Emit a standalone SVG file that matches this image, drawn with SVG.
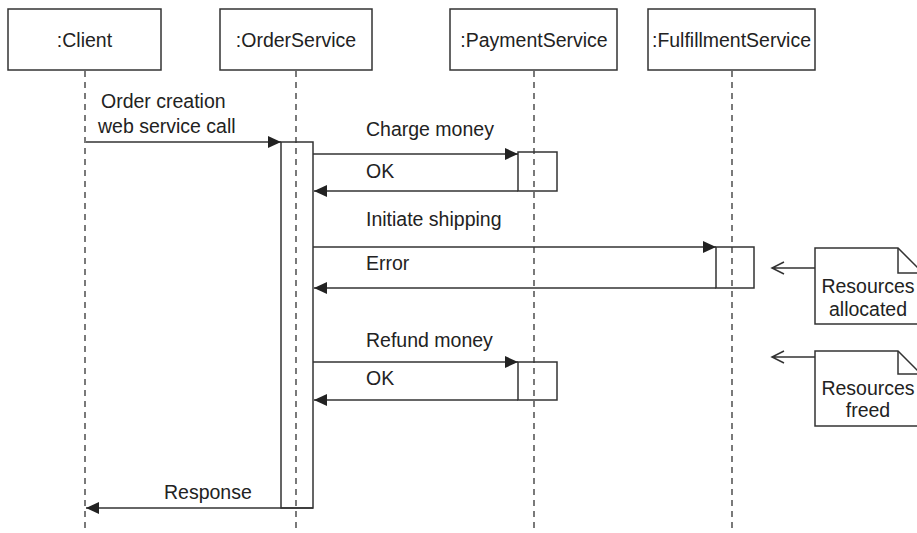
<svg xmlns="http://www.w3.org/2000/svg" width="917" height="533" viewBox="0 0 917 533">
<style>
text{font-family:"Liberation Sans",Arial,sans-serif;font-size:19.5px;fill:#222}
.box{fill:#fff;stroke:#333;stroke-width:1.5}
.act{fill:none;stroke:#333;stroke-width:1.5}
.life{stroke:#333;stroke-width:1.3;stroke-dasharray:6 5;fill:none}
.msg{stroke:#333;stroke-width:1.5;fill:none}
.c{text-anchor:middle}
</style>
<defs>
<marker id="ah" markerUnits="userSpaceOnUse" markerWidth="14" markerHeight="12" refX="13" refY="6" orient="auto">
<path d="M0,0 L13,6 L0,12 Z" fill="#222"/>
</marker>
</defs>
<g id="lifelines">
<line class="life" x1="85" y1="71" x2="85" y2="533"/>
<line class="life" x1="296" y1="71" x2="296" y2="533"/>
<line class="life" x1="534" y1="71" x2="534" y2="533"/>
<line class="life" x1="732" y1="71" x2="732" y2="533"/>
</g>
<g id="client"><rect class="box" x="8" y="9" width="153" height="61"/><text class="c" x="84.5" y="47">:Client</text></g>
<g id="orderService"><rect class="box" x="220" y="9" width="152" height="61"/><text class="c" x="296" y="47">:OrderService</text></g>
<g id="paymentService"><rect class="box" x="450" y="9" width="167" height="61"/><text class="c" x="534" y="47">:PaymentService</text></g>
<g id="fulfillmentService"><rect class="box" x="648" y="9" width="167" height="61"/><text class="c" x="731.5" y="47" textLength="159" lengthAdjust="spacingAndGlyphs">:FulfillmentService</text></g>
<g id="activations">
<rect class="act" x="281" y="142" width="32" height="366"/>
<rect class="act" x="518" y="152" width="39" height="39"/>
<rect class="act" x="716" y="247" width="38" height="41"/>
<rect class="act" x="518" y="362" width="39" height="38"/>
</g>
<g id="note-allocated">
<path class="box" d="M815,248 L898,248 L925,275 L925,324 L815,324 Z"/>
<path class="msg" d="M898,248 L898,273 L925,273"/>
<text class="c" x="868" y="293">Resources</text>
<text class="c" x="868" y="316">allocated</text>
</g>
<g id="note-freed">
<path class="box" d="M815,351 L898,351 L925,378 L925,426 L815,426 Z"/>
<path class="msg" d="M898,351 L898,374 L925,374"/>
<text class="c" x="868" y="395">Resources</text>
<text class="c" x="868" y="417">freed</text>
</g>
<g id="connectors">
<line class="msg" x1="86" y1="142" x2="281" y2="142" marker-end="url(#ah)"/>
<line class="msg" x1="313" y1="154" x2="518" y2="154" marker-end="url(#ah)"/>
<line class="msg" x1="518" y1="191" x2="314" y2="191" marker-end="url(#ah)"/>
<line class="msg" x1="313" y1="247" x2="716" y2="247" marker-end="url(#ah)"/>
<line class="msg" x1="716" y1="288" x2="314" y2="288" marker-end="url(#ah)"/>
<line class="msg" x1="313" y1="362" x2="518" y2="362" marker-end="url(#ah)"/>
<line class="msg" x1="518" y1="400" x2="314" y2="400" marker-end="url(#ah)"/>
<line class="msg" x1="313" y1="508" x2="86" y2="508" marker-end="url(#ah)"/>
<path class="msg" d="M815,268 L772,268 M784,262 L772,268 L784,274"/>
<path class="msg" d="M815,357 L772,357 M784,351 L772,357 L784,363"/>
</g>
<g id="labels">
<text x="101" y="108">Order creation</text>
<text x="98" y="133">web service call</text>
<text x="366" y="136">Charge money</text>
<text x="366" y="178">OK</text>
<text x="366" y="226">Initiate shipping</text>
<text x="366" y="270">Error</text>
<text x="366" y="347">Refund money</text>
<text x="366" y="385">OK</text>
<text x="164" y="499">Response</text>
</g>
</svg>
